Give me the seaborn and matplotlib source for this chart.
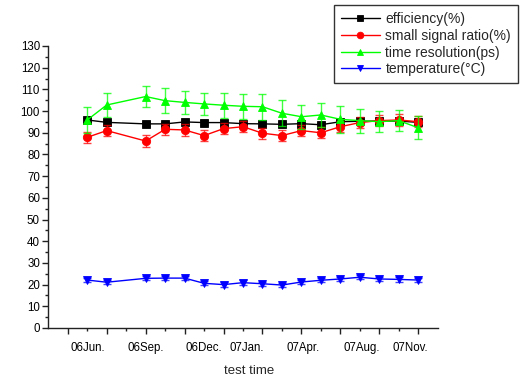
import matplotlib
matplotlib.use("Agg")
import matplotlib.pyplot as plt
from matplotlib.ticker import FixedLocator, NullFormatter
import seaborn as sns
import pandas as pd

# measurement slots along the time axis
slots = [2, 3, 5, 6, 7, 8, 9, 10, 11, 12, 13, 14, 15, 16, 17, 18, 19]

efficiency = [95.9, 94.8, 94.1, 94.1, 95.0, 94.7, 94.7, 94.2, 94.1, 93.9,
              94.2, 93.7, 95.1, 95.3, 95.4, 95.4, 94.8]
efficiency_err = [1.0] * 17

small_signal = [87.9, 91.0, 86.2, 91.6, 91.3, 88.7, 91.9, 92.8, 89.8, 88.7,
                91.0, 90.0, 92.8, 94.7, 95.6, 95.9, 95.1]
small_signal_err = [2.6, 2.6, 2.8, 2.6, 2.6, 2.6, 2.6, 2.6, 2.6, 2.6,
                    2.6, 2.6, 2.6, 2.6, 2.6, 2.6, 2.6]

time_res = [95.9, 102.8, 106.7, 104.8, 104.0, 103.3, 102.7, 102.2, 102.0, 99.0,
            97.4, 98.2, 96.2, 95.6, 95.1, 95.6, 92.3]
time_res_err = [6.1, 5.5, 4.8, 5.8, 5.3, 5.0, 5.8, 5.8, 6.0, 6.0,
                5.5, 5.4, 6.1, 5.5, 4.9, 4.8, 5.4]

temperature = [22.1, 21.1, 22.9, 23.0, 23.0, 20.6, 20.0, 20.9, 20.4, 19.8,
               21.2, 22.0, 22.6, 23.4, 22.6, 22.4, 22.1]
temperature_err = [1.0] * 17

month_labels = ["06Jun.", "06Sep.", "06Dec.", "07Jan.", "07Apr.", "07Aug.", "07Nov."]
month_positions = [2.05, 5.0, 8.0, 10.2, 13.1, 16.1, 18.6]

sns.set_style("ticks")
plt.rcParams["font.family"] = ["Liberation Sans", "DejaVu Sans"]

fig = plt.figure(figsize=(5.2, 3.76), dpi=100)
ax = fig.add_axes([48.3 / 520, 48 / 376, 389.4 / 520, 282 / 376])

series = [
    ("efficiency(%)", efficiency, efficiency_err, "black", "s"),
    ("small signal ratio(%)", small_signal, small_signal_err, "#ff0000", "o"),
    ("time resolution(ps)", time_res, time_res_err, "#00ff00", "^"),
    ("temperature(\u00b0C)", temperature, temperature_err, "#0000ff", "v"),
]

for name, vals, errs, col, mk in series:
    df = pd.DataFrame({"slot": slots, "value": vals})
    ax.errorbar(slots, vals, yerr=errs, fmt="none", ecolor=col, elinewidth=1.0,
                capsize=2.6, capthick=1.0, alpha=0.75)
    sns.lineplot(data=df, x="slot", y="value", ax=ax, color=col, marker=mk,
                 markersize=6, markeredgecolor=col, markeredgewidth=0.6,
                 linewidth=1.0, label=name)

ax.set_xlim(0, 20)
ax.set_ylim(0, 130)
sns.despine(ax=ax)
for s in ("left", "bottom"):
    ax.spines[s].set_color("#222222")
    ax.spines[s].set_linewidth(1.0)

ax.set_yticks(range(0, 131, 10))
ax.yaxis.set_minor_locator(FixedLocator(range(5, 130, 10)))
ax.set_xticks(range(1, 20, 2))
ax.xaxis.set_minor_locator(FixedLocator(range(2, 20, 2)))
ax.xaxis.set_major_formatter(NullFormatter())
ax.tick_params(axis="both", which="major", direction="out", length=4.0,
               width=1.0, color="#222222", labelsize=8.3, labelcolor="black", pad=2)
ax.tick_params(axis="both", which="minor", direction="out", length=2.2,
               width=1.0, color="#222222")

sec = ax.secondary_xaxis("bottom")
sec.set_xticks(month_positions)
sec.set_xticklabels(month_labels)
sec.tick_params(length=0, labelsize=8.3, labelcolor="black", pad=10)
sec.spines["bottom"].set_visible(False)

ax.set_ylabel("")
ax.set_xlabel("test time", fontsize=9.5)
ax.xaxis.label.set_va("baseline")
ax.xaxis.set_label_coords(0.515, (328 - 373.5) / 282)

leg = ax.legend(loc="upper right", bbox_to_anchor=(518 / 520, 1 - 5 / 376),
                bbox_transform=fig.transFigure, fontsize=10, frameon=True,
                fancybox=False, edgecolor="#333333", framealpha=1,
                handlelength=2.8, handletextpad=0.4, labelspacing=0.2,
                borderpad=0.5, borderaxespad=0, markerscale=0.8)
leg.get_frame().set_linewidth(1.0)

fig.savefig("out.png", dpi=100)
